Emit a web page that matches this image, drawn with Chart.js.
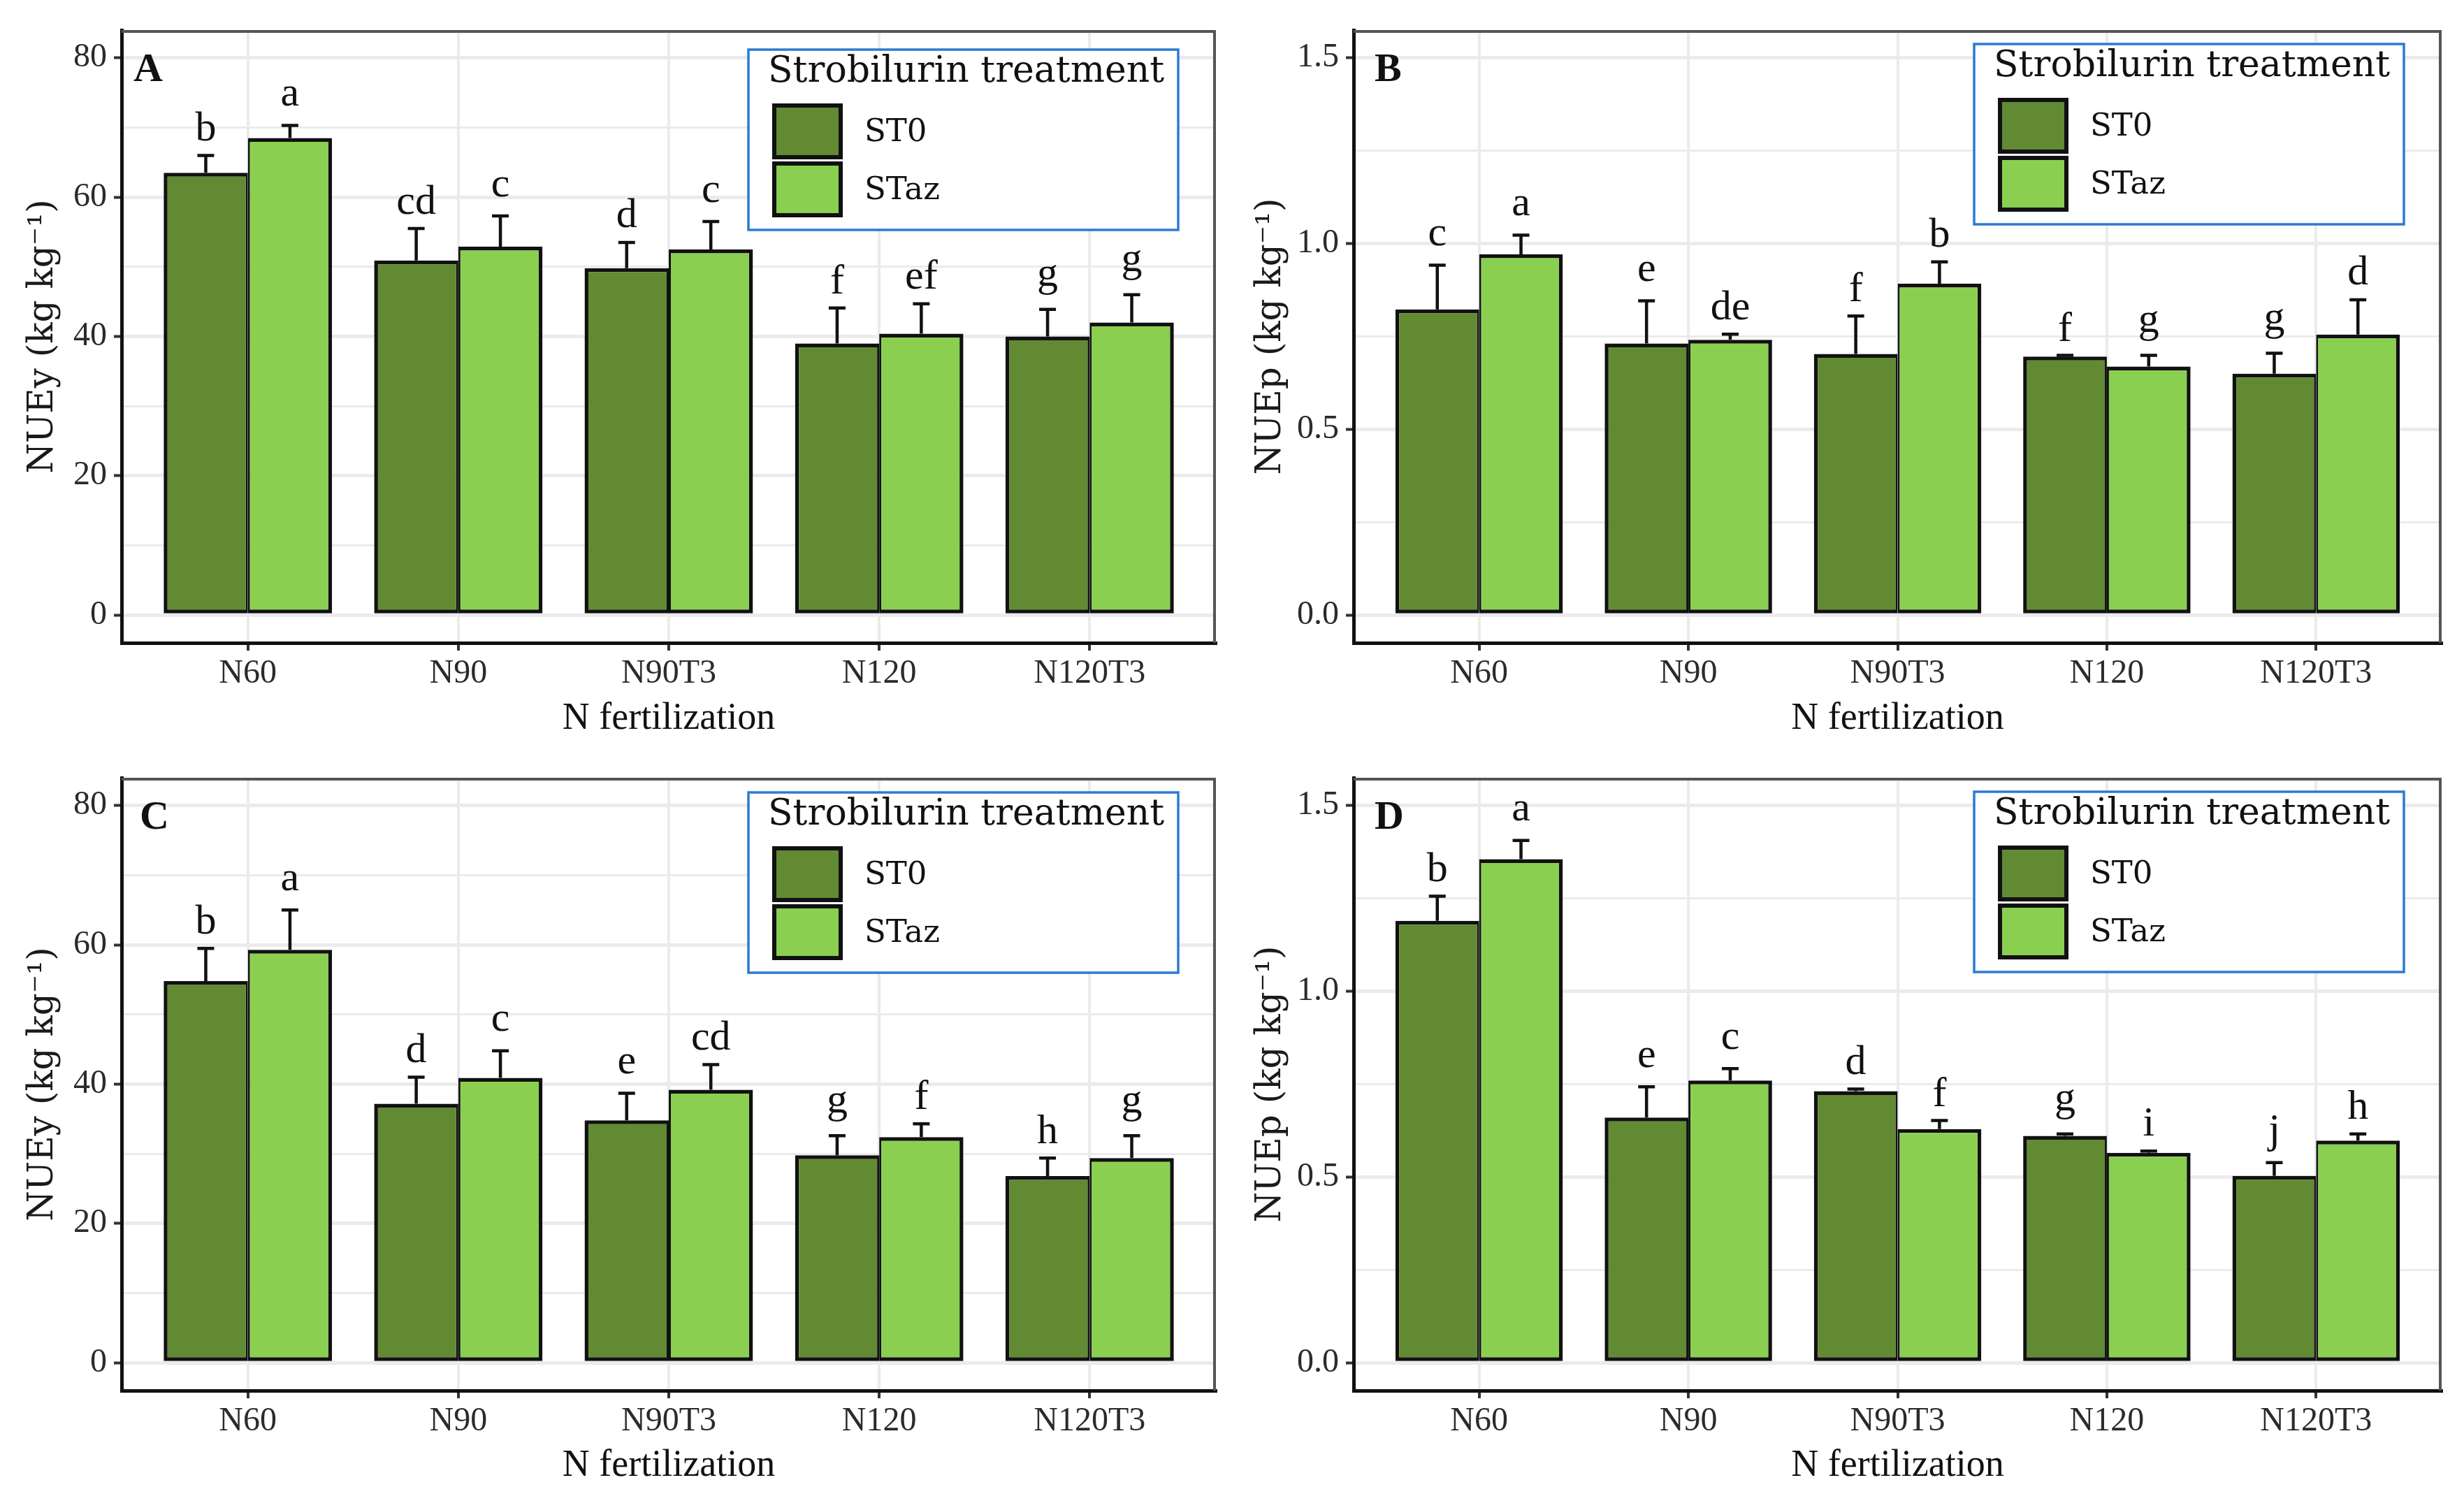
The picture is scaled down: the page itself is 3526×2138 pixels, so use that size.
<!DOCTYPE html>
<html>
<head>
<meta charset="utf-8">
<script src="https://cdn.jsdelivr.net/npm/chart.js@4.4.1/dist/chart.umd.min.js"></script>
<style>
  body { margin: 0; background: #fff; width: 3526px; height: 2138px; position: relative; overflow: hidden; }
  .panel { position: absolute; width: 1763px; height: 1069px; }
</style>
</head>
<body>
<div class="panel" style="left:0;top:0"><canvas id="chartA" width="1763" height="1069"></canvas></div>
<div class="panel" style="left:1763px;top:0"><canvas id="chartB" width="1763" height="1069"></canvas></div>
<div class="panel" style="left:0;top:1069px"><canvas id="chartC" width="1763" height="1069"></canvas></div>
<div class="panel" style="left:1763px;top:1069px"><canvas id="chartD" width="1763" height="1069"></canvas></div>
<script>
// categories and series
const categories = ['N60', 'N90', 'N90T3', 'N120', 'N120T3'];
const seriesNames = ['ST0', 'STaz'];
const seriesColors = ['#618a33', '#8bcf51'];

// A - NUEy
const nueyA_ST0 = [63.5, 50.9, 49.8, 39.0, 40.0];
const nueyA_STaz = [68.5, 52.9, 52.5, 40.4, 42.0];
const errA_ST0 = [2.5, 4.6, 3.7, 5.1, 3.9];
const errA_STaz = [1.8, 4.4, 4.0, 4.3, 4.0];
const lettersA_ST0 = ['b', 'cd', 'd', 'f', 'g'];
const lettersA_STaz = ['a', 'c', 'c', 'ef', 'g'];

// B - NUEp
const nuepB_ST0 = [0.823, 0.731, 0.703, 0.696, 0.650];
const nuepB_STaz = [0.971, 0.741, 0.892, 0.669, 0.755];
const errB_ST0 = [0.119, 0.115, 0.102, 0.003, 0.055];
const errB_STaz = [0.052, 0.015, 0.059, 0.030, 0.094];
const lettersB_ST0 = ['c', 'e', 'f', 'f', 'g'];
const lettersB_STaz = ['a', 'de', 'b', 'g', 'd'];

// C - NUEy
const nueyC_ST0 = [54.8, 37.2, 34.8, 29.8, 26.8];
const nueyC_STaz = [59.3, 40.9, 39.2, 32.4, 29.4];
const errC_ST0 = [4.7, 3.8, 3.9, 2.8, 2.6];
const errC_STaz = [5.7, 3.9, 3.6, 1.9, 3.2];
const lettersC_ST0 = ['b', 'd', 'e', 'g', 'h'];
const lettersC_STaz = ['a', 'c', 'cd', 'f', 'g'];

// D - NUEp
const nuepD_ST0 = [1.190, 0.660, 0.731, 0.611, 0.503];
const nuepD_STaz = [1.356, 0.760, 0.629, 0.565, 0.598];
const errD_ST0 = [0.066, 0.083, 0.006, 0.005, 0.036];
const errD_STaz = [0.050, 0.032, 0.023, 0.005, 0.018];
const lettersD_ST0 = ['b', 'e', 'd', 'g', 'j'];
const lettersD_STaz = ['a', 'c', 'f', 'i', 'h'];

// axis ticks
const nueyTicks = [0, 20, 40, 60, 80];
const nuepTicks = [0, 0.5, 1.0, 1.5];

const W = 1763, H = 1069;
const SERIF = '"Liberation Serif", serif';

// error bars, letters, panel tag, legend box
const panelDecor = {
  id: 'panelDecor',
  beforeDatasetsDraw(chart) {
    const { ctx, chartArea: a } = chart;
    ctx.save();
    ctx.strokeStyle = '#555';
    ctx.lineWidth = 4;
    ctx.beginPath();
    ctx.moveTo(a.left, a.top + 2);
    ctx.lineTo(a.right - 2, a.top + 2);
    ctx.lineTo(a.right - 2, a.bottom);
    ctx.stroke();
    ctx.restore();
  },
  afterDatasetsDraw(chart, args, opts) {
    const { ctx, chartArea: a } = chart;
    const yScale = chart.scales.y;
    ctx.save();
    chart.data.datasets.forEach((ds, di) => {
      const meta = chart.getDatasetMeta(di);
      meta.data.forEach((bar, j) => {
        const topPx = yScale.getPixelForValue(ds.data[j].y + opts.errors[di][j]);
        ctx.strokeStyle = '#111';
        ctx.lineWidth = 4.5;
        ctx.beginPath();
        ctx.moveTo(bar.x, bar.y);
        ctx.lineTo(bar.x, topPx);
        ctx.moveTo(bar.x - 12, topPx);
        ctx.lineTo(bar.x + 12, topPx);
        ctx.stroke();

        const s = opts.letters[di][j];
        ctx.font = '60px ' + SERIF;
        ctx.fillStyle = '#111';
        ctx.textAlign = 'center';
        ctx.textBaseline = 'alphabetic';
        const m = ctx.measureText(s);
        const mid = topPx - 42;
        ctx.fillText(s, bar.x, mid + (m.actualBoundingBoxAscent - m.actualBoundingBoxDescent) / 2);
      });
    });

    // panel tag
    ctx.font = 'bold 58px ' + SERIF;
    ctx.textAlign = 'left';
    ctx.fillStyle = '#111';
    ctx.fillText(opts.tag, a.left + opts.tagDx, a.top + 73);

    // legend box
    const bw = 615, bh = 258;
    const L = a.right - opts.legendDx - bw;
    const T = a.top + opts.legendDy;
    ctx.fillStyle = '#fff';
    ctx.fillRect(L, T, bw, bh);
    ctx.strokeStyle = '#2a7bd4';
    ctx.lineWidth = 3.5;
    ctx.strokeRect(L, T, bw, bh);
    ctx.fillStyle = '#111';
    ctx.font = '52px "DejaVu Serif", serif';
    ctx.fillText('Strobilurin treatment', L + 28, T + 46);
    seriesNames.forEach((name, i) => {
      const ky = T + 77 + i * 83;
      ctx.fillStyle = seriesColors[i];
      ctx.fillRect(L + 34, ky, 101, 80);
      ctx.strokeStyle = '#111';
      ctx.lineWidth = 6;
      ctx.strokeRect(L + 37, ky + 3, 95, 74);
      ctx.fillStyle = '#111';
      ctx.font = '45px "DejaVu Serif", serif';
      ctx.textBaseline = 'middle';
      ctx.fillText(name, L + 166, ky + 42);
      ctx.textBaseline = 'alphabetic';
    });
    ctx.restore();
  }
};

function buildPanel(id, p) {
  const step = p.yTicks[1] - p.yTicks[0];
  const yGrid = [];
  p.yTicks.forEach((v, i) => {
    yGrid.push(v);
    if (i < p.yTicks.length - 1) yGrid.push(v + step / 2);
  });
  const isMajor = v => p.yTicks.some(m => Math.abs(m - v) < 1e-9);
  const tickFont = { family: SERIF, size: 48 };

  const datasets = [p.st0, p.staz].map((vals, i) => ({
    label: seriesNames[i],
    data: vals.map((v, j) => ({ x: j + 1, y: v })),
    backgroundColor: seriesColors[i],
    borderColor: '#111',
    borderWidth: i === 0
      ? { top: 5.5, bottom: 5.5, left: 5.5, right: 3 }
      : { top: 5.5, bottom: 5.5, left: 3, right: 5.5 },
    borderSkipped: false,
    barPercentage: 1.0,
    categoryPercentage: 0.8
  }));

  new Chart(document.getElementById(id), {
    type: 'bar',
    data: { datasets },
    plugins: [panelDecor],
    options: {
      responsive: false,
      devicePixelRatio: 1,
      animation: false,
      events: [],
      layout: { padding: { top: p.top, right: p.rightPad, left: 0, bottom: 0 } },
      plugins: {
        legend: { display: false },
        tooltip: { enabled: false },
        panelDecor: {
          errors: [p.errST0, p.errSTaz],
          letters: [p.letST0, p.letSTaz],
          tag: p.tag,
          tagDx: p.tagDx,
          legendDx: p.legendDx,
          legendDy: p.legendDy
        }
      },
      scales: {
        x: {
          type: 'linear',
          min: 0.4,
          max: 5.6,
          offset: false,
          afterBuildTicks: s => { s.ticks = categories.map((c, i) => ({ value: i + 1 })); },
          afterFit: s => { s.height = H - p.bottom; },
          ticks: {
            callback: (v, i) => categories[i],
            font: tickFont,
            color: '#2b2b2b',
            padding: 5,
            autoSkip: false,
            maxRotation: 0
          },
          grid: { color: '#ebebeb', lineWidth: 4, tickColor: '#333', tickLength: 11, tickWidth: 4, offset: false },
          border: { color: '#111', width: 5 },
          title: {
            display: true,
            text: 'N fertilization',
            font: { family: SERIF, size: 54 },
            color: '#111',
            padding: { top: 0, bottom: 8 }
          }
        },
        y: {
          min: p.yMin,
          max: p.yMax,
          afterBuildTicks: s => { s.ticks = yGrid.map(v => ({ value: v })); },
          afterFit: s => { s.width = 174; },
          ticks: {
            callback: v => isMajor(v) ? p.fmt(v) : '',
            font: tickFont,
            color: '#2b2b2b',
            padding: 10,
            autoSkip: false
          },
          grid: {
            color: '#ebebeb',
            lineWidth: c => (c.tick && isMajor(c.tick.value)) ? 5 : 3,
            tickColor: c => (c.tick && isMajor(c.tick.value)) ? '#333' : 'rgba(0,0,0,0)',
            tickLength: 11,
            tickWidth: 4
          },
          border: { color: '#111', width: 5 },
          title: {
            display: true,
            text: p.yTitle,
            font: { family: '"DejaVu Serif", serif', size: 50 },
            color: '#1a1a1a',
            padding: { top: p.yTitlePad, bottom: 0 }
          }
        }
      }
    }
  });
}

const fmtInt = v => String(v);
const fmtOne = v => v.toFixed(1);

buildPanel('chartA', {
  st0: nueyA_ST0, staz: nueyA_STaz, errST0: errA_ST0, errSTaz: errA_STaz,
  letST0: lettersA_ST0, letSTaz: lettersA_STaz,
  yMin: -4, yMax: 84, yTicks: nueyTicks, fmt: fmtInt, yTitle: 'NUEy (kg kg⁻¹)',
  tag: 'A', tagDx: 17, legendDx: 54, legendDy: 28,
  top: 43, bottom: 920, rightPad: 23, yTitlePad: 32
});
buildPanel('chartB', {
  st0: nuepB_ST0, staz: nuepB_STaz, errST0: errB_ST0, errSTaz: errB_STaz,
  letST0: lettersB_ST0, letSTaz: lettersB_STaz,
  yMin: -0.075, yMax: 1.575, yTicks: nuepTicks, fmt: fmtOne, yTitle: 'NUEp (kg kg⁻¹)',
  tag: 'B', tagDx: 30, legendDx: 54, legendDy: 20,
  top: 43, bottom: 920, rightPad: 32, yTitlePad: 26
});
buildPanel('chartC', {
  st0: nueyC_ST0, staz: nueyC_STaz, errST0: errC_ST0, errSTaz: errC_STaz,
  letST0: lettersC_ST0, letSTaz: lettersC_STaz,
  yMin: -4, yMax: 84, yTicks: nueyTicks, fmt: fmtInt, yTitle: 'NUEy (kg kg⁻¹)',
  tag: 'C', tagDx: 26, legendDx: 54, legendDy: 21,
  top: 44, bottom: 921, rightPad: 23, yTitlePad: 32
});
buildPanel('chartD', {
  st0: nuepD_ST0, staz: nuepD_STaz, errST0: errD_ST0, errSTaz: errD_STaz,
  letST0: lettersD_ST0, letSTaz: lettersD_STaz,
  yMin: -0.075, yMax: 1.575, yTicks: nuepTicks, fmt: fmtOne, yTitle: 'NUEp (kg kg⁻¹)',
  tag: 'D', tagDx: 30, legendDx: 54, legendDy: 20,
  top: 44, bottom: 921, rightPad: 32, yTitlePad: 26
});
</script>
</body>
</html>
